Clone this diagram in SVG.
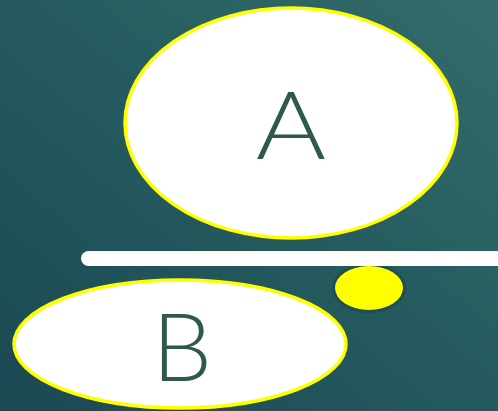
<svg xmlns="http://www.w3.org/2000/svg" width="498" height="411" viewBox="0 0 498 411">
<defs>
<linearGradient id="bg" x1="0" y1="1" x2="1" y2="0">
<stop offset="0" stop-color="#1b4853"/>
<stop offset="0.5" stop-color="#245a5e"/>
<stop offset="1" stop-color="#336c6a"/>
</linearGradient>
<style>
.node{fill:#ffffff;stroke:#ffff00;stroke-width:3.5}
.lbl{font-family:Lato,"Open Sans","DejaVu Sans",sans-serif;font-weight:300;font-size:95px;fill:#2f5a47;text-anchor:middle}
</style>
</defs>
<rect width="498" height="411" fill="url(#bg)"/>
<g id="nodeA">
<ellipse class="node" cx="291" cy="123" rx="166" ry="115"/>
<text class="lbl" x="0" y="159" transform="translate(291 0) scale(1.13 1)">A</text>
</g>
<g id="dot">
<ellipse cx="369" cy="288" rx="37" ry="25" fill="#1c4b55" opacity="0.85"/>
<ellipse cx="369" cy="288" rx="34" ry="22" fill="#ffff00"/>
</g>
<g id="bar">
<rect x="81" y="251" width="425" height="15" rx="7.5" fill="#ffffff"/>
</g>
<g id="nodeB">
<ellipse class="node" cx="180" cy="344" rx="166" ry="64"/>
<text class="lbl" x="182" y="381">B</text>
</g>
<g id="connectors"/>
</svg>
